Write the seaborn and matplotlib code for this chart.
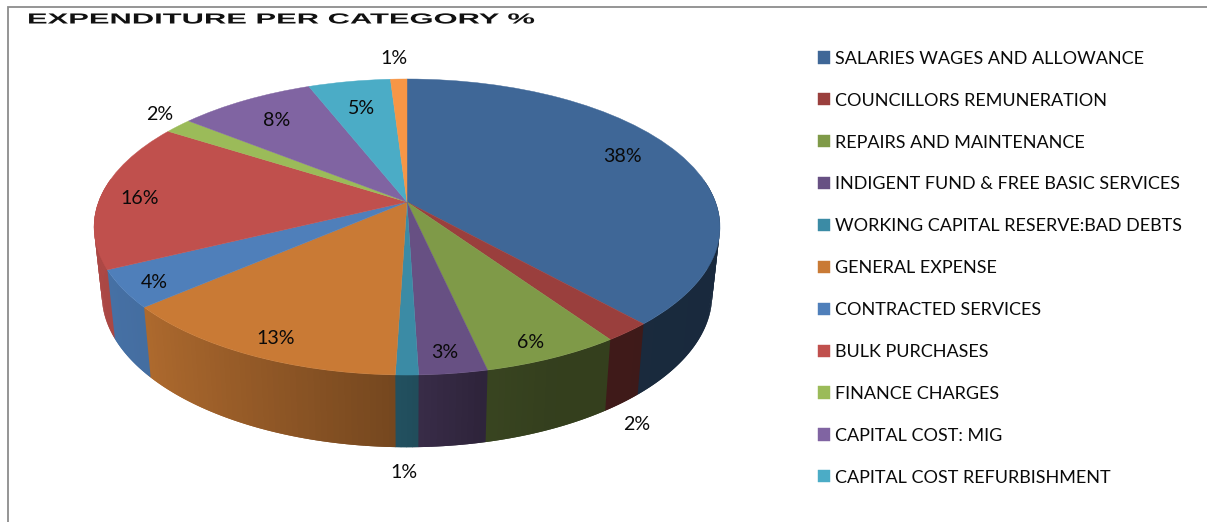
import numpy as np
import matplotlib
matplotlib.use("Agg")
import matplotlib.pyplot as plt
import seaborn as sns
from matplotlib.transforms import Transform, Affine2D
from matplotlib.patheffects import AbstractPathEffect

# ---- data -------------------------------------------------------------
categories = [
    "SALARIES WAGES AND ALLOWANCE", "COUNCILLORS REMUNERATION",
    "REPAIRS AND MAINTENANCE", "INDIGENT FUND & FREE BASIC SERVICES",
    "WORKING CAPITAL RESERVE:BAD DEBTS", "GENERAL EXPENSE",
    "CONTRACTED SERVICES", "BULK PURCHASES", "FINANCE CHARGES",
    "CAPITAL COST: MIG", "CAPITAL COST REFURBISHMENT", "OTHER",
]
shares = [38.3, 2.1, 6.1, 3.0, 1.0, 13.2, 4.1, 16.2, 1.7, 8.3, 5.0, 1.0]
legend_count = 11
title = "EXPENDITURE PER CATEGORY %"

# ---- styling ----------------------------------------------------------
slice_colors = ["#3F6797", "#9A3F3D", "#7F9A48", "#675083", "#3B8BA5", "#C97A35",
                "#4F7FBA", "#C0504D", "#9BBB59", "#8064A2", "#4BACC6", "#F79646"]
label_px = [(622, 156), (637, 424), (531, 342), (445, 353), (404, 472), (276, 338),
            (154, 282), (140, 199), (160, 114), (277, 121), (362, 108), (394, 58)]
W, H = 1207, 522
CX, CY = 407, 202      # pie centre in picture pixels
A, B, K = 308.5, 143.8, 0.169   # projective tilt of the disc
RIM_X, RIM_Y, RIM_D = 0.975, 1.03, 67  # lower rim of the cylinder
TEXT = "#0A0A0A"

sns.set_theme(style="white", palette=sns.color_palette(slice_colors))
plt.rcParams["font.family"] = ["Lato", "DejaVu Sans"]


class Tilt(Transform):
    """Project the unit pie disc to picture pixels, as a tilted disc."""
    input_dims = output_dims = 2
    is_separable = False
    has_inverse = False

    def transform_non_affine(self, xy):
        xy = np.asarray(xy, float)
        d = 1 + K * xy[:, 1]
        return np.column_stack([CX + A * xy[:, 0] / d, CY - B * xy[:, 1] / d])


class StretchX(AbstractPathEffect):
    """Widen glyphs horizontally; the artist stays real text."""
    def __init__(self, sx):
        super().__init__()
        self.sx = sx

    def draw_path(self, renderer, gc, tpath, affine, rgbFace=None):
        renderer.draw_path(gc, tpath, Affine2D().scale(self.sx, 1) + affine, rgbFace)


fig = plt.figure(figsize=(W / 100, H / 100), dpi=100, facecolor="white")
ax = fig.add_axes([0, 0, 1, 1])

wedges, _ = ax.pie(shares, startangle=90, counterclock=False, colors=slice_colors,
                   wedgeprops=dict(linewidth=0.3))
ax.set_aspect("auto")
ax.set_xlim(0, W)
ax.set_ylim(H, 0)
ax.axis("off")

tilt = Tilt()
for w, c in zip(wedges, slice_colors):
    w.set_transform(tilt + ax.transData)
    w.set_edgecolor(c)
    w.set_zorder(3)

# Side wall of the cylinder, shaded strip by strip from each wedge's angles.
# Strips are painted from high to low angle, each overlapping the next one,
# so no seams show between them.
shade_x = [-1.0, -0.75, -0.03, 0.03, 0.2, 0.4, 1.0]
shade_f = [0.90, 0.86, 0.58, 0.55, 0.45, 0.41, 0.40]
order = 1.0
for w, c in zip(wedges, slice_colors):
    th = np.radians(np.linspace(w.theta2, w.theta1, max(2, int(w.theta2 - w.theta1) + 2)))
    base = np.array(matplotlib.colors.to_rgb(c))
    for t0, t1 in zip(th[:-1], th[1:]):
        if np.sin(t0) > 0.15 and np.sin(t1) > 0.15:
            continue
        tt = np.array([t0, t1, t1 - np.radians(1.0)])
        top = tilt.transform_non_affine(np.column_stack([np.cos(tt), np.sin(tt)]))
        bot = top.copy()
        bot[:, 0] = CX + (top[:, 0] - CX) * RIM_X
        bot[:, 1] = CY + (top[:, 1] - CY) * RIM_Y + RIM_D
        f = np.interp(np.cos((t0 + t1) / 2), shade_x, shade_f)
        order += 1e-4
        ax.fill(np.r_[top[:, 0], bot[::-1, 0]], np.r_[top[:, 1], bot[::-1, 1]],
                color=base * f, lw=0, zorder=order)

# Percent labels
for s, (lx, ly) in zip(shares, label_px):
    ax.text(lx, ly, f"{round(s)}%", ha="center", va="center", fontsize=14.1, color=TEXT, zorder=5)

# Legend
ax.legend(wedges[:legend_count], categories[:legend_count], loc="upper left",
          bbox_to_anchor=(811 / W, 1 - 43.5 / H), bbox_transform=fig.transFigure,
          frameon=False, fontsize=13, labelspacing=1.434, handlelength=0.665,
          handleheight=0.665, handletextpad=0.28, borderpad=0.4, borderaxespad=0,
          labelcolor=TEXT)

# Title, drawn wide
ax.text(27, 19.5, title, ha="left", va="center", fontsize=10.5, fontweight="bold",
        family="Liberation Sans", color="#111111", zorder=5,
        path_effects=[StretchX(2.12)])

# Picture frame: only top and left edges
ax.plot([7.5, 7.5, W], [H, 6.5, 6.5], color="#8C8C8C", lw=1.3, solid_joinstyle="miter",
        clip_on=False, zorder=6)

fig.savefig("out.png", dpi=100, facecolor="white")
